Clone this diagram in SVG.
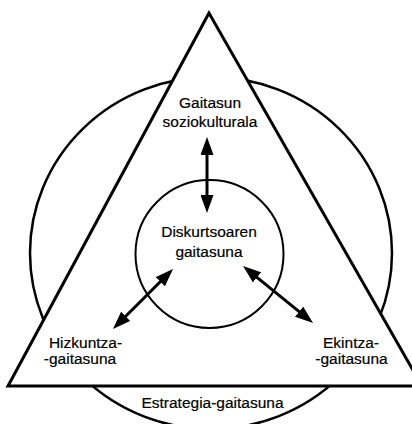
<svg xmlns="http://www.w3.org/2000/svg" width="412" height="424" viewBox="0 0 412 424">
  <style>
    .lbl { font-family: "Liberation Sans", Arial, sans-serif; font-size: 15.5px; fill: #000; stroke: #000; stroke-width: 0.2; text-anchor: middle; }
    .shape { fill: #fff; stroke: #000; }
    .conn { stroke: #000; stroke-width: 3; fill: none; marker-start: url(#ah); marker-end: url(#ah); }
  </style>
  <defs>
    <marker id="ah" markerUnits="userSpaceOnUse" viewBox="0 0 18 13" markerWidth="18" markerHeight="13" refX="12" refY="6.5" orient="auto-start-reverse">
      <path d="M0,0 L18,6.5 L0,13 z" fill="#000"/>
    </marker>
  </defs>
  <rect width="412" height="424" fill="#fff"/>
  <g id="strategy-ring">
    <ellipse class="shape" cx="211" cy="253" rx="181" ry="176" stroke-width="2.5"/>
  </g>
  <g id="triangle">
    <polygon class="shape" points="209,13 8,386 422,386" stroke-width="3" stroke-linejoin="miter"/>
  </g>
  <g id="discourse-circle">
    <circle class="shape" cx="209.5" cy="254" r="74" stroke-width="2"/>
  </g>
  <g id="connectors">
    <line class="conn" x1="207" y1="143" x2="207" y2="207"/>
    <line class="conn" x1="117.2" y1="324.8" x2="168.8" y2="273.2"/>
    <line class="conn" x1="247.7" y1="269.8" x2="308.4" y2="319.2"/>
  </g>
  <g id="node-soziokulturala">
    <text class="lbl" x="210" y="108">Gaitasun</text>
    <text class="lbl" x="210" y="127">soziokulturala</text>
  </g>
  <g id="node-diskurtsoaren">
    <text class="lbl" x="209" y="237">Diskurtsoaren</text>
    <text class="lbl" x="209" y="257">gaitasuna</text>
  </g>
  <g id="node-hizkuntza">
    <text class="lbl" x="85.5" y="348">Hizkuntza-</text>
    <text class="lbl" x="80" y="364">-gaitasuna</text>
  </g>
  <g id="node-ekintza">
    <text class="lbl" x="351" y="348">Ekintza-</text>
    <text class="lbl" x="351.5" y="364">-gaitasuna</text>
  </g>
  <g id="node-estrategia">
    <text class="lbl" x="212.5" y="408">Estrategia-gaitasuna</text>
  </g>
</svg>
